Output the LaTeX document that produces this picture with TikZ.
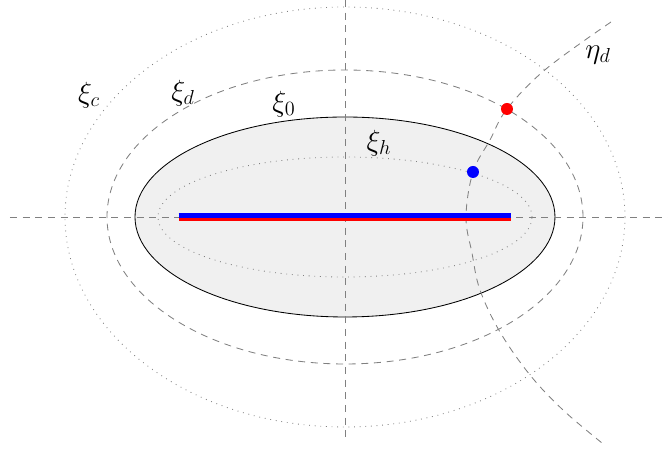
\documentclass[tikz,border=0pt]{standalone}
\usepackage{amsmath, amssymb, amsfonts}
\usepackage{tikz}
\usetikzlibrary{calc}

\begin{document}
\begin{tikzpicture}[line width=0.6pt,
    gridline/.style={gray, dash pattern=on 5pt off 4pt},
    dotline/.style={gray, dash pattern=on 0.6pt off 3.4pt},
    lbl/.style={font=\huge}]
    \useasboundingbox (-8.625,-5.875) rectangle (8.075,5.425);
    % confocal ellipses
    \draw[fill=gray!12] (0,0) ellipse (5.25 and 2.5);
    \draw[gridline] (0,0) ellipse (5.95 and 3.675);
    \draw[dotline] (0,0) ellipse (7.0 and 5.25);
    \draw[gridline] (-8.375,0) -- (8.075,0);
    \draw[gridline] (0,5.425) -- (0,-5.55);
    \draw[dotline] (0,0) ellipse (4.675 and 1.5);
    % hyperbola eta_d
    \draw[gridline] plot[smooth, tension=0.6] coordinates {(6.65,4.875) (5.025,3.7) (4.05,2.7) (3.625,1.925) (3.2,1.125) (3.025,0) (3.175,-0.9) (3.375,-1.825) (3.875,-2.875) (4.625,-3.95) (5.45,-4.825) (6.425,-5.65)};
    % focal segment
    \draw[red, line width=0.1cm] (-4.16,-0.06) -- (4.16,-0.06);
    \draw[blue, line width=0.125cm] (-4.16,0.03) -- (4.16,0.03);
    \fill[red] (4.05,2.7) circle (0.15);
    \fill[blue] (3.2,1.125) circle (0.15);
    \node[lbl] (xic) at (-6.4,3.05) {$\xi_c$};
    \node[lbl] (xid) at (-4.05,3.1) {$\xi_d$};
    \node[lbl] (xi0) at (-1.525,2.825) {$\xi_0$};
    \node[lbl] (xih) at (0.85,1.85) {$\xi_h$};
    \node[lbl] (etad) at (6.325,4.05) {$\eta_d$};
\end{tikzpicture}
\end{document}
